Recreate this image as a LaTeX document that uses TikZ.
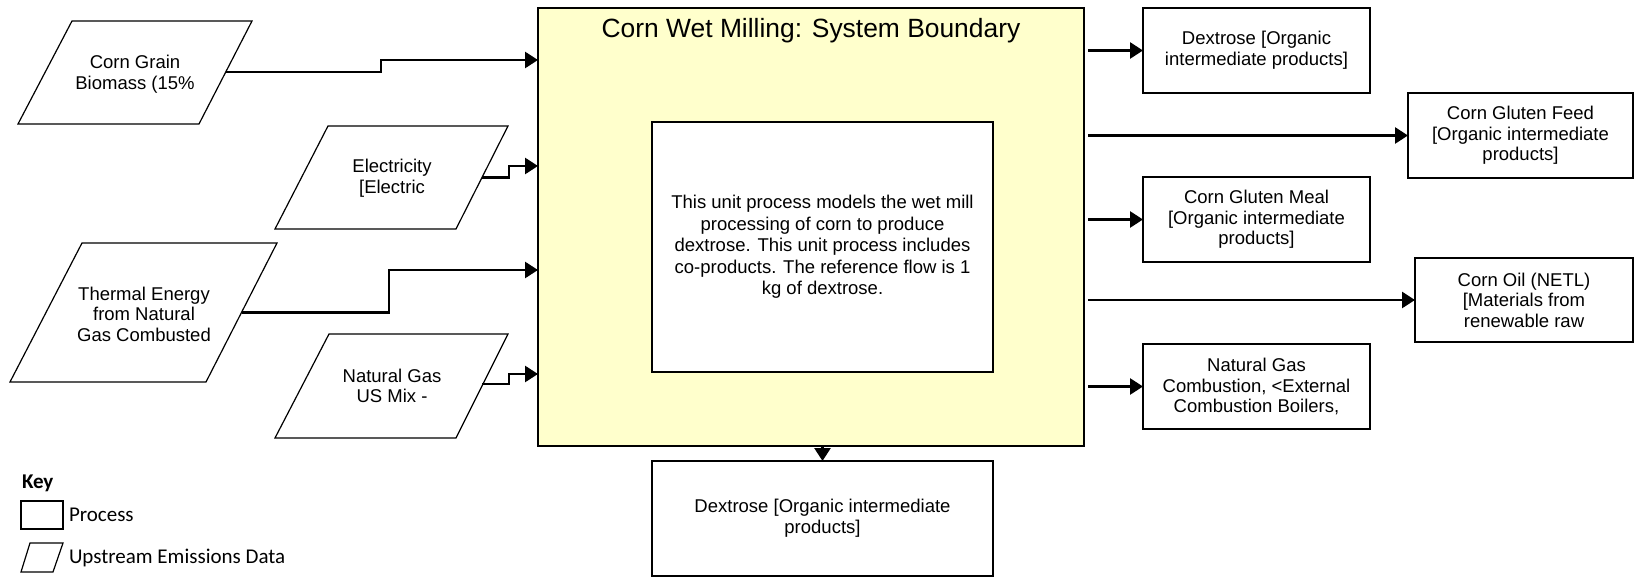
\documentclass[tikz,border=0pt]{standalone}
\usepackage{fontspec}
\setmainfont{Liberation Sans}
\newfontfamily\keyfont{Carlito}
\usetikzlibrary{arrows.meta,calc}
\definecolor{yellowbg}{HTML}{FFFFCC}

\begin{document}
\begin{tikzpicture}[x=0.5pt,y=-0.5pt,
  every node/.style={inner sep=0pt, outer sep=0pt},
  bodytext/.style={font=\fontsize{9.25}{10.3}\selectfont, align=center},
  procbox/.style={draw, line width=0.6pt, fill=white, bodytext},
  boundary/.style={draw, line width=0.6pt, fill=yellowbg},
  upstream/.style={draw, line width=0.6pt, line join=miter},
  flow/.style={line width=1.35pt, -{Triangle[length=6.5pt,width=8pt]}},
  keytext/.style={font=\keyfont\fontsize{10.5}{12}\selectfont, anchor=west},
]
\useasboundingbox (0,0) rectangle (1634,577);

% system boundary and unit process description
\node[boundary, minimum width=273pt, minimum height=219pt] (main) at (811,227) {};
\node[font=\fontsize{13.2}{15}\selectfont] (title) at (811,31) {Corn Wet Milling: System Boundary};
\node[procbox, minimum width=170.5pt, minimum height=125pt,
      font=\fontsize{9.25}{10.75}\selectfont] (desc) at (822.5,247)
  {This unit process models the wet mill\\processing of corn to produce\\dextrose. This unit process includes\\co-products. The reference flow is 1\\kg of dextrose.};

% upstream inputs (parallelograms)
\draw[upstream] (72,21) -- (252,21) -- (199,124) -- (18,124) -- cycle;
\node[bodytext] (cg) at (135,74) {Corn Grain\\Biomass (15\%};
\coordinate (cg-out) at (225.5,72);

\draw[upstream] (328,126) -- (508,126) -- (456,229) -- (275,229) -- cycle;
\node[bodytext] (el) at (392,178) {Electricity\\{[}Electric};
\coordinate (el-out) at (482,177.5);

\draw[upstream] (82,243) -- (277,243) -- (206,382) -- (10,382) -- cycle;
\node[bodytext] (th) at (144,314) {Thermal Energy\\from Natural\\Gas Combusted};
\coordinate (th-out) at (241.5,312.5);

\draw[upstream] (329,334) -- (508,334) -- (456,438) -- (275,438) -- cycle;
\node[bodytext] (ng) at (392,386) {Natural Gas\\US Mix -};
\coordinate (ng-out) at (482,384);

% input flows
\draw[flow] (cg-out) -- (381,72) -- (381,60) -- (main.west |- 0,60);
\draw[flow] (el-out) -- (509,177.5) -- (509,166) -- (main.west |- 0,166);
\draw[flow] (th-out) -- (389,312.5) -- (389,270) -- (main.west |- 0,270);
\draw[flow] (ng-out) -- (509,384) -- (509,374) -- (main.west |- 0,374);

% output processes
\node[procbox, minimum width=113.5pt, minimum height=42.5pt] (dex1) at (1256.5,50.5)
  {Dextrose [Organic\\intermediate products]};
\node[procbox, minimum width=112.5pt, minimum height=42.5pt] (cgf) at (1520.5,135.5)
  {Corn Gluten Feed\\{[}Organic intermediate\\products]};
\node[procbox, minimum width=113.5pt, minimum height=42.5pt] (cgm) at (1256.5,219.5)
  {Corn Gluten Meal\\{[}Organic intermediate\\products]};
\node[procbox, minimum width=109pt, minimum height=42pt] (oil) at (1524,300)
  {Corn Oil (NETL)\\{[}Materials from\\renewable raw};
\node[procbox, minimum width=113.5pt, minimum height=42.5pt] (ngc) at (1256.5,386.5)
  {Natural Gas\\Combustion, <External\\Combustion Boilers,};
\node[procbox, minimum width=170.5pt, minimum height=57.5pt] (dex2) at (822.5,518.5)
  {Dextrose [Organic intermediate\\products]};

% output flows
\foreach \t in {dex1,cgf,cgm,oil,ngc}
  \draw[flow] ($(main.east |- \t.west)+(4,0)$) -- (\t.west);
\draw[flow] (dex2.north |- main.south) -- (dex2.north);

% key
\node[font=\keyfont\bfseries\fontsize{10.5}{12}\selectfont, anchor=west] (keytitle) at (22,483) {Key};
\node[draw, line width=0.6pt, minimum width=21pt, minimum height=14pt] (keyproc) at (42,515) {};
\node[keytext] (keyproclbl) at (69,515) {Process};
\draw[upstream] (30,543) -- (63,543) -- (53,572) -- (21,572) -- cycle;
\node[keytext] (keyuplbl) at (69,558) {Upstream Emissions Data};
\end{tikzpicture}
\end{document}
